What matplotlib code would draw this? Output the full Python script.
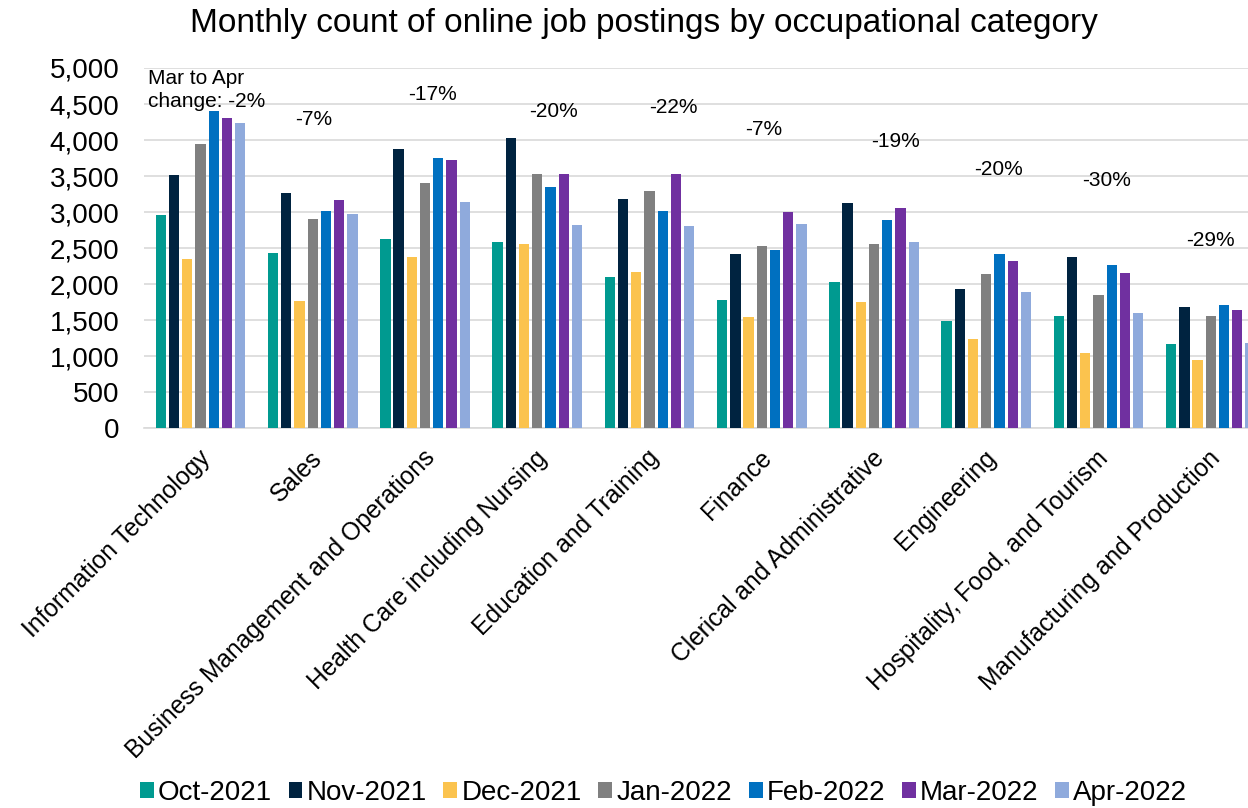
import matplotlib
matplotlib.use("Agg")
import matplotlib.pyplot as plt
import matplotlib.transforms as mtransforms
import numpy as np

plt.rcParams['font.family'] = ['Liberation Sans', 'DejaVu Sans']

categories = ["Information Technology", "Sales", "Business Management and Operations",
              "Health Care including Nursing", "Education and Training", "Finance",
              "Clerical and Administrative", "Engineering", "Hospitality, Food, and Tourism",
              "Manufacturing and Production"]
months = ["Oct-2021", "Nov-2021", "Dec-2021", "Jan-2022", "Feb-2022", "Mar-2022", "Apr-2022"]

oct_2021 = [2960, 2433, 2627, 2581, 2105, 1776, 2035, 1485, 1559, 1166]
nov_2021 = [3515, 3270, 3871, 4033, 3187, 2415, 3127, 1929, 2377, 1688]
dec_2021 = [2345, 1772, 2373, 2558, 2169, 1545, 1753, 1244, 1041, 944]
jan_2022 = [3941, 2905, 3400, 3534, 3293, 2530, 2553, 2146, 1855, 1554]
feb_2022 = [4399, 3016, 3751, 3349, 3016, 2470, 2891, 2424, 2271, 1707]
mar_2022 = [4311, 3173, 3723, 3529, 3529, 3006, 3057, 2317, 2155, 1637]
apr_2022 = [4241, 2974, 3136, 2821, 2808, 2835, 2581, 1892, 1596, 1180]

change_labels = ["Mar to Apr\nchange: -2%", "-7%", "-17%", "-20%", "-22%", "-7%",
                 "-19%", "-20%", "-30%", "-29%"]

series = [oct_2021, nov_2021, dec_2021, jan_2022, feb_2022, mar_2022, apr_2022]
colors = ["#009A90", "#002340", "#FBC34E", "#808080", "#0070C0", "#7030A0", "#8FAADC"]

# layout of the change annotations (data coords)
label_x = [-0.468, 1.011, 2.071, 3.149, 4.209, 5.019, 6.195, 7.112, 8.075, 8.993]
label_y = [4990, 4212, 4559, 4323, 4379, 4074, 3907, 3519, 3366, 2535]

fig = plt.figure(figsize=(12.48, 8.08), dpi=100)
ax = fig.add_axes([0.11568, 0.46993, 0.8995, 0.44592])

x = np.arange(len(categories))
pitch = 0.1178
width = 0.092
for j, (vals, c, m) in enumerate(zip(series, colors, months)):
    ax.bar(x + (j - 3) * pitch, vals, width=width, color=c, label=m, zorder=3)

ax.set_xlim(-0.5, 9.5)
ax.set_ylim(0, 5000)
ax.set_yticks(np.arange(0, 5001, 500))
ax.set_yticklabels([f"{v:,}" for v in range(0, 5001, 500)], fontsize=20)
ax.grid(axis='y', color='#D9D9D9', linewidth=1.2, zorder=0)
for s in ['top', 'right', 'left']:
    ax.spines[s].set_visible(False)
ax.spines['bottom'].set_color('#D9D9D9')
ax.spines['bottom'].set_linewidth(1.2)
ax.tick_params(axis='y', length=0, pad=18)
ax.tick_params(axis='x', length=0, pad=0)

ax.set_xticks(x)
ax.set_xticklabels(categories, fontsize=17.7, rotation=45, ha='right', va='center',
                   rotation_mode='anchor')
offset = mtransforms.ScaledTranslation(6 / 100, -26 / 100, fig.dpi_scale_trans)
for lbl in ax.get_xticklabels():
    lbl.set_transform(lbl.get_transform() + offset)

for i, (txt, lx, ly) in enumerate(zip(change_labels, label_x, label_y)):
    if i == 0:
        ax.text(lx, ly, txt, fontsize=15, ha='left', va='top', linespacing=1.27, clip_on=False)
    else:
        ax.text(lx, ly, txt, fontsize=15, ha='center', va='baseline', clip_on=False)

fig.text(0.516, 0.9608, "Monthly count of online job postings by occupational category",
         ha='center', va='baseline', fontsize=24)

leg = fig.legend(loc='center', bbox_to_anchor=(0.5316, 0.0186), ncol=7, fontsize=20,
                 frameon=False, handlelength=0.5, handleheight=0.5, handletextpad=0.15,
                 columnspacing=0.6, borderaxespad=0, borderpad=0)

fig.savefig("out.png", dpi=100)
